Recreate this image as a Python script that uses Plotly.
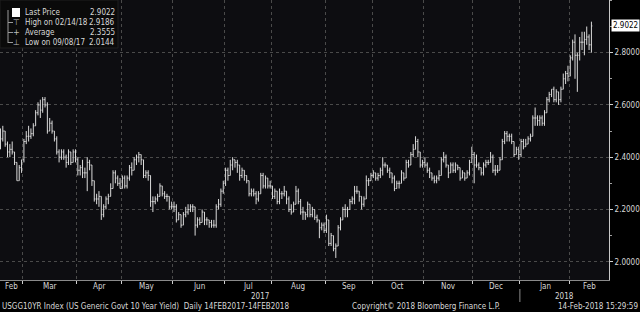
import plotly.graph_objects as go

# ---------------- data ----------------
months = ["2017-02", "2017-03", "2017-04", "2017-05", "2017-06", "2017-07", "2017-08",
          "2017-09", "2017-10", "2017-11", "2017-12", "2018-01", "2018-02"]
month_names = ["Feb", "Mar", "Apr", "May", "Jun", "Jul", "Aug", "Sep", "Oct", "Nov", "Dec", "Jan", "Feb"]
trading_days = [
    [14, 15, 16, 17, 21, 22, 23, 24, 27, 28],
    [1, 2, 3, 6, 7, 8, 9, 10, 13, 14, 15, 16, 17, 20, 21, 22, 23, 24, 27, 28, 29, 30, 31],
    [3, 4, 5, 6, 7, 10, 11, 12, 13, 17, 18, 19, 20, 21, 24, 25, 26, 27, 28],
    [1, 2, 3, 4, 5, 8, 9, 10, 11, 12, 15, 16, 17, 18, 19, 22, 23, 24, 25, 26, 30, 31],
    [1, 2, 5, 6, 7, 8, 9, 12, 13, 14, 15, 16, 19, 20, 21, 22, 23, 26, 27, 28, 29, 30],
    [3, 5, 6, 7, 10, 11, 12, 13, 14, 17, 18, 19, 20, 21, 24, 25, 26, 27, 28, 31],
    [1, 2, 3, 4, 7, 8, 9, 10, 11, 14, 15, 16, 17, 18, 21, 22, 23, 24, 25, 28, 29, 30, 31],
    [1, 5, 6, 7, 8, 11, 12, 13, 14, 15, 18, 19, 20, 21, 22, 25, 26, 27, 28, 29],
    [2, 3, 4, 5, 6, 9, 10, 11, 12, 13, 16, 17, 18, 19, 20, 23, 24, 25, 26, 27, 30, 31],
    [1, 2, 3, 6, 7, 8, 9, 10, 13, 14, 15, 16, 17, 20, 21, 22, 24, 27, 28, 29, 30],
    [1, 4, 5, 6, 7, 8, 11, 12, 13, 14, 15, 18, 19, 20, 21, 22, 26, 27, 28, 29],
    [2, 3, 4, 5, 8, 9, 10, 11, 12, 16, 17, 18, 19, 22, 23, 24, 25, 26, 29, 30, 31],
    [1, 2, 5, 6, 7, 8, 9, 12, 13, 14],
]

open_ = [
    2.44, 2.47, 2.50, 2.45, 2.42, 2.43, 2.42, 2.38, 2.31, 2.36,
    2.39, 2.46, 2.48, 2.48, 2.49, 2.52, 2.57, 2.60, 2.58, 2.62, 2.60, 2.50, 2.53, 2.50, 2.47, 2.42, 2.40, 2.42, 2.40, 2.38, 2.42, 2.38, 2.42,
    2.39, 2.35, 2.36, 2.34, 2.34, 2.38, 2.37, 2.31, 2.24, 2.24, 2.25, 2.18, 2.21, 2.24, 2.25, 2.28, 2.34, 2.32, 2.30,
    2.28, 2.32, 2.29, 2.32, 2.36, 2.35, 2.39, 2.40, 2.41, 2.39, 2.33, 2.34, 2.33, 2.23, 2.23, 2.24, 2.25, 2.29, 2.26, 2.25, 2.25, 2.21,
    2.21, 2.21, 2.16, 2.18, 2.14, 2.18, 2.19, 2.20, 2.21, 2.21, 2.14, 2.16, 2.15, 2.19, 2.16, 2.16, 2.15, 2.14, 2.14, 2.21, 2.22, 2.27,
    2.30, 2.35, 2.33, 2.37, 2.39, 2.38, 2.37, 2.33, 2.35, 2.33, 2.31, 2.26, 2.27, 2.26, 2.24, 2.26, 2.33, 2.29, 2.32, 2.29,
    2.29, 2.25, 2.27, 2.23, 2.26, 2.26, 2.27, 2.24, 2.20, 2.19, 2.22, 2.27, 2.23, 2.19, 2.19, 2.18, 2.22, 2.18, 2.20, 2.17, 2.16, 2.13, 2.14,
    2.12, 2.16, 2.07, 2.10, 2.05, 2.06, 2.13, 2.16, 2.20, 2.20, 2.20, 2.23, 2.24, 2.27, 2.27, 2.25, 2.22, 2.24, 2.31, 2.31,
    2.33, 2.34, 2.32, 2.33, 2.35, 2.37, 2.37, 2.35, 2.34, 2.32, 2.28, 2.30, 2.30, 2.34, 2.32, 2.38, 2.37, 2.41, 2.43, 2.46, 2.42, 2.37,
    2.38, 2.37, 2.35, 2.34, 2.32, 2.31, 2.32, 2.33, 2.39, 2.40, 2.37, 2.34, 2.37, 2.35, 2.37, 2.36, 2.32, 2.34, 2.32, 2.34, 2.38,
    2.41, 2.37, 2.37, 2.36, 2.34, 2.37, 2.38, 2.38, 2.40, 2.35, 2.35, 2.35, 2.39, 2.46, 2.49, 2.48, 2.48, 2.46, 2.41, 2.43,
    2.41, 2.46, 2.44, 2.45, 2.47, 2.48, 2.55, 2.55, 2.54, 2.55, 2.53, 2.57, 2.62, 2.64, 2.66, 2.62, 2.65, 2.62, 2.66, 2.70, 2.72,
    2.71, 2.78, 2.84, 2.79, 2.79, 2.84, 2.84, 2.85, 2.86, 2.83,
]
high = [
    2.51, 2.52, 2.50, 2.46, 2.45, 2.46, 2.42, 2.38, 2.37, 2.39,
    2.47, 2.50, 2.52, 2.51, 2.53, 2.58, 2.61, 2.62, 2.63, 2.63, 2.61, 2.55, 2.54, 2.50, 2.48, 2.43, 2.43, 2.43, 2.41, 2.43, 2.42, 2.43, 2.43,
    2.40, 2.37, 2.39, 2.36, 2.40, 2.39, 2.37, 2.31, 2.26, 2.27, 2.25, 2.22, 2.25, 2.26, 2.30, 2.35, 2.35, 2.33, 2.32,
    2.33, 2.33, 2.33, 2.37, 2.38, 2.40, 2.41, 2.42, 2.41, 2.39, 2.35, 2.35, 2.33, 2.25, 2.25, 2.26, 2.30, 2.29, 2.27, 2.26, 2.25, 2.23,
    2.23, 2.22, 2.19, 2.18, 2.19, 2.21, 2.22, 2.22, 2.22, 2.21, 2.17, 2.17, 2.20, 2.19, 2.17, 2.16, 2.16, 2.16, 2.22, 2.24, 2.28, 2.31,
    2.36, 2.36, 2.39, 2.40, 2.39, 2.39, 2.37, 2.36, 2.35, 2.33, 2.31, 2.28, 2.28, 2.27, 2.27, 2.34, 2.34, 2.33, 2.32, 2.31,
    2.29, 2.28, 2.27, 2.28, 2.27, 2.29, 2.27, 2.25, 2.22, 2.23, 2.29, 2.28, 2.24, 2.21, 2.19, 2.23, 2.22, 2.21, 2.20, 2.18, 2.16, 2.15, 2.15,
    2.18, 2.16, 2.11, 2.10, 2.07, 2.14, 2.17, 2.21, 2.22, 2.21, 2.24, 2.25, 2.29, 2.29, 2.27, 2.25, 2.25, 2.33, 2.32, 2.34,
    2.35, 2.34, 2.34, 2.36, 2.40, 2.38, 2.37, 2.36, 2.34, 2.33, 2.31, 2.31, 2.35, 2.34, 2.39, 2.39, 2.42, 2.45, 2.48, 2.47, 2.42, 2.39,
    2.40, 2.38, 2.36, 2.34, 2.33, 2.33, 2.35, 2.40, 2.42, 2.41, 2.37, 2.38, 2.38, 2.38, 2.37, 2.36, 2.35, 2.34, 2.35, 2.39, 2.44,
    2.42, 2.41, 2.38, 2.36, 2.38, 2.39, 2.39, 2.42, 2.41, 2.37, 2.37, 2.40, 2.47, 2.50, 2.50, 2.49, 2.49, 2.46, 2.44, 2.44,
    2.47, 2.47, 2.47, 2.48, 2.49, 2.56, 2.59, 2.56, 2.56, 2.56, 2.58, 2.63, 2.65, 2.66, 2.67, 2.66, 2.65, 2.67, 2.72, 2.73, 2.75,
    2.79, 2.85, 2.87, 2.80, 2.86, 2.88, 2.88, 2.90, 2.87, 2.9186,
]
low = [
    2.43, 2.46, 2.44, 2.40, 2.40, 2.41, 2.37, 2.31, 2.31, 2.34,
    2.38, 2.45, 2.46, 2.47, 2.48, 2.52, 2.56, 2.55, 2.57, 2.59, 2.49, 2.50, 2.49, 2.46, 2.41, 2.38, 2.39, 2.39, 2.36, 2.37, 2.37, 2.38, 2.38,
    2.33, 2.33, 2.32, 2.32, 2.27, 2.35, 2.29, 2.23, 2.22, 2.21, 2.16, 2.17, 2.20, 2.22, 2.25, 2.28, 2.30, 2.29, 2.28,
    2.28, 2.28, 2.28, 2.31, 2.33, 2.35, 2.37, 2.38, 2.37, 2.32, 2.32, 2.31, 2.21, 2.19, 2.22, 2.23, 2.25, 2.25, 2.24, 2.23, 2.20, 2.20,
    2.19, 2.15, 2.16, 2.13, 2.14, 2.17, 2.18, 2.19, 2.19, 2.10, 2.13, 2.14, 2.15, 2.14, 2.14, 2.13, 2.13, 2.13, 2.13, 2.20, 2.21, 2.26,
    2.29, 2.31, 2.33, 2.35, 2.36, 2.34, 2.31, 2.32, 2.31, 2.30, 2.25, 2.25, 2.25, 2.22, 2.23, 2.26, 2.28, 2.28, 2.28, 2.28,
    2.24, 2.24, 2.22, 2.22, 2.24, 2.25, 2.22, 2.19, 2.18, 2.19, 2.22, 2.22, 2.18, 2.16, 2.16, 2.17, 2.17, 2.17, 2.16, 2.15, 2.09, 2.12, 2.11,
    2.11, 2.06, 2.06, 2.04, 2.0144, 2.06, 2.12, 2.16, 2.17, 2.17, 2.20, 2.22, 2.22, 2.26, 2.23, 2.20, 2.21, 2.24, 2.29, 2.31,
    2.32, 2.31, 2.31, 2.32, 2.33, 2.36, 2.34, 2.32, 2.30, 2.27, 2.28, 2.28, 2.30, 2.31, 2.32, 2.36, 2.37, 2.40, 2.43, 2.40, 2.36, 2.36,
    2.36, 2.34, 2.32, 2.31, 2.30, 2.30, 2.31, 2.33, 2.38, 2.36, 2.32, 2.34, 2.34, 2.34, 2.35, 2.31, 2.32, 2.31, 2.32, 2.33, 2.38,
    2.30, 2.36, 2.35, 2.33, 2.33, 2.36, 2.37, 2.38, 2.34, 2.33, 2.34, 2.35, 2.39, 2.45, 2.46, 2.46, 2.45, 2.40, 2.41, 2.39,
    2.40, 2.43, 2.44, 2.45, 2.46, 2.48, 2.52, 2.52, 2.52, 2.52, 2.52, 2.57, 2.61, 2.63, 2.61, 2.61, 2.60, 2.61, 2.66, 2.68, 2.69,
    2.71, 2.77, 2.70, 2.65, 2.77, 2.81, 2.79, 2.83, 2.81, 2.80,
]
close = [
    2.47, 2.50, 2.45, 2.42, 2.43, 2.42, 2.38, 2.31, 2.36, 2.39,
    2.46, 2.48, 2.48, 2.49, 2.52, 2.57, 2.60, 2.58, 2.62, 2.60, 2.50, 2.53, 2.50, 2.47, 2.42, 2.40, 2.42, 2.40, 2.38, 2.42, 2.38, 2.42, 2.39,
    2.35, 2.36, 2.34, 2.34, 2.38, 2.37, 2.31, 2.24, 2.24, 2.25, 2.18, 2.21, 2.24, 2.25, 2.28, 2.34, 2.32, 2.30, 2.28,
    2.32, 2.29, 2.32, 2.36, 2.35, 2.39, 2.40, 2.41, 2.39, 2.33, 2.34, 2.33, 2.23, 2.23, 2.24, 2.25, 2.29, 2.26, 2.25, 2.25, 2.21, 2.21,
    2.21, 2.16, 2.18, 2.14, 2.18, 2.19, 2.20, 2.21, 2.21, 2.14, 2.16, 2.15, 2.19, 2.16, 2.16, 2.15, 2.14, 2.14, 2.21, 2.22, 2.27, 2.30,
    2.35, 2.33, 2.37, 2.39, 2.38, 2.37, 2.33, 2.35, 2.33, 2.31, 2.26, 2.27, 2.26, 2.24, 2.26, 2.33, 2.29, 2.32, 2.29, 2.29,
    2.25, 2.27, 2.23, 2.26, 2.26, 2.27, 2.24, 2.20, 2.19, 2.22, 2.27, 2.23, 2.19, 2.19, 2.18, 2.22, 2.18, 2.20, 2.17, 2.16, 2.13, 2.14, 2.12,
    2.16, 2.07, 2.10, 2.05, 2.06, 2.13, 2.16, 2.20, 2.20, 2.20, 2.23, 2.24, 2.27, 2.27, 2.25, 2.22, 2.24, 2.31, 2.31, 2.33,
    2.34, 2.32, 2.33, 2.35, 2.37, 2.37, 2.35, 2.34, 2.32, 2.28, 2.30, 2.30, 2.34, 2.32, 2.38, 2.37, 2.41, 2.43, 2.46, 2.42, 2.37, 2.38,
    2.37, 2.35, 2.34, 2.32, 2.31, 2.32, 2.33, 2.39, 2.40, 2.37, 2.34, 2.37, 2.35, 2.37, 2.36, 2.32, 2.34, 2.32, 2.34, 2.38, 2.41,
    2.37, 2.37, 2.36, 2.34, 2.37, 2.38, 2.38, 2.40, 2.35, 2.35, 2.35, 2.39, 2.46, 2.49, 2.48, 2.48, 2.46, 2.41, 2.43, 2.41,
    2.46, 2.44, 2.45, 2.47, 2.48, 2.55, 2.55, 2.54, 2.55, 2.53, 2.57, 2.62, 2.64, 2.66, 2.62, 2.65, 2.62, 2.66, 2.70, 2.72, 2.71,
    2.78, 2.84, 2.79, 2.79, 2.84, 2.84, 2.85, 2.86, 2.83, 2.9022,
]
average_value = 2.3555
y_ticks = [2.0, 2.2, 2.4, 2.6, 2.8]
y_minor = [2.1, 2.3, 2.5, 2.7, 2.9, 3.0]
title_text = "USGG10YR Index (US Generic Govt 10 Year Yield)  Daily 14FEB2017-14FEB2018"
copyright_text = "Copyright\u00a9 2018 Bloomberg Finance L.P."
stamp_text = "14-Feb-2018 15:29:59"

# ---------------- derived ----------------
dates = [f"{m}-{d:02d}" for m, days in zip(months, trading_days) for d in days]
x = list(range(len(dates)))

X_RANGE = [-0.2, 259.5]
Y_RANGE = [1.930, 3.0015]

bounds = []
idx = 0
for days in trading_days:
    bounds.append(idx - 0.5)
    idx += len(days)
month_edges = bounds + [X_RANGE[1]]
mids = []
for i in range(len(months)):
    a = max(month_edges[i], X_RANGE[0])
    b = min(month_edges[i + 1], X_RANGE[1])
    mids.append((a + b) / 2)
grid_bounds = bounds[1:]
year_split = bounds[months.index("2018-01")]

FONT = "Liberation Sans Narrow, Arial Narrow, DejaVu Sans Condensed, Liberation Sans, Arial, sans-serif"
TXT = "#d8d8d8"

W_PLOT, H_PLOT = 609, 280


def px(v):
    return v / W_PLOT


def py(v):
    return 1 - v / H_PLOT


fig = go.Figure()
fig.add_trace(go.Ohlc(
    x=x, open=open_, high=high, low=low, close=close,
    increasing=dict(line=dict(color="#dadada", width=1)),
    decreasing=dict(line=dict(color="#dadada", width=1)),
    tickwidth=0.4, hoverinfo="skip", showlegend=False,
))

annotations = []
shapes = []

# legend box
shapes.append(dict(type="rect", xref="paper", yref="paper", x0=px(0), x1=px(118), y0=py(48), y1=py(0),
                   fillcolor="#0a0a0a", line=dict(color="#1e1e1e", width=1), layer="above"))
shapes.append(dict(type="line", xref="paper", yref="paper", x0=px(8), x1=px(8), y0=py(10), y1=py(43),
                   line=dict(color="#9a9a9a", width=1), layer="above"))
for yy in [22.5, 32.5, 42.5]:
    shapes.append(dict(type="line", xref="paper", yref="paper", x0=px(8), x1=px(13), y0=py(yy), y1=py(yy),
                       line=dict(color="#9a9a9a", width=1), layer="above"))
shapes.append(dict(type="rect", xref="paper", yref="paper", x0=px(12), x1=px(20), y0=py(17), y1=py(8),
                   fillcolor="#ffffff", line=dict(color="#ffffff", width=0), layer="above"))

hi_idx = max(range(len(high)), key=lambda i: high[i])
lo_idx = min(range(len(low)), key=lambda i: low[i])


def mmddyy(d):
    y, m, dd = d.split("-")
    return f"{m}/{dd}/{y[2:]}"


legend_rows = [
    ("", "Last Price", f"{close[-1]:.4f}"),
    ("\u22a4", f"High on {mmddyy(dates[hi_idx])}", f"{high[hi_idx]:.4f}"),
    ("+", "Average", f"{average_value:.4f}"),
    ("\u22a5", f"Low on {mmddyy(dates[lo_idx])}", f"{low[lo_idx]:.4f}"),
]
for k, (sym, lab, val) in enumerate(legend_rows):
    yy = 12.5 + 10 * k
    if sym:
        annotations.append(dict(xref="paper", yref="paper", x=px(16), y=py(yy), text=sym, showarrow=False,
                                xanchor="center", yanchor="middle", font=dict(family="DejaVu Sans", size=8, color="#bdbdbd")))
    annotations.append(dict(xref="paper", yref="paper", x=px(23), y=py(yy), text=lab, showarrow=False,
                            xanchor="left", yanchor="middle", font=dict(family=FONT, size=8, color=TXT)))
    annotations.append(dict(xref="paper", yref="paper", x=px(117), y=py(yy), text=val, showarrow=False,
                            xanchor="right", yanchor="middle", font=dict(family=FONT, size=8, color=TXT)))

# last price tag
annotations.append(dict(xref="paper", yref="y", x=1, y=close[-1], text=f"{close[-1]:.4f}", showarrow=False,
                        xanchor="left", yanchor="middle", xshift=2, bgcolor="#ffffff", borderpad=1,
                        font=dict(family=FONT, size=8, color="#000000")))

# month labels (centred in each visible month span)
for m_x, m_name in zip(mids, month_names):
    annotations.append(dict(xref="x", yref="paper", x=m_x, y=py(286), text=m_name, showarrow=False,
                            xanchor="center", yanchor="middle", font=dict(family=FONT, size=8, color=TXT)))

# year labels and separator
annotations.append(dict(xref="x", yref="paper", x=(X_RANGE[0] + year_split) / 2, y=py(296.5), text=months[0][:4],
                        showarrow=False, xanchor="center", yanchor="middle", font=dict(family=FONT, size=8, color=TXT)))
annotations.append(dict(xref="x", yref="paper", x=(year_split + X_RANGE[1]) / 2, y=py(296.5), text=months[-1][:4],
                        showarrow=False, xanchor="center", yanchor="middle", font=dict(family=FONT, size=8, color=TXT)))
shapes.append(dict(type="line", xref="x", yref="paper", x0=year_split, x1=year_split, y0=py(289), y1=py(302),
                   line=dict(color="#8a8a8a", width=1)))

# footer
annotations.append(dict(xref="paper", yref="paper", x=px(0), y=py(306.5), text=title_text, showarrow=False,
                        xanchor="left", yanchor="middle", font=dict(family=FONT, size=8, color=TXT)))
annotations.append(dict(xref="paper", yref="paper", x=px(350), y=py(306.5), text=copyright_text, showarrow=False,
                        xanchor="left", yanchor="middle", font=dict(family=FONT, size=8, color=TXT)))
annotations.append(dict(xref="paper", yref="paper", x=px(640), y=py(306.5), text=stamp_text, showarrow=False,
                        xanchor="right", yanchor="middle", font=dict(family=FONT, size=8, color=TXT)))

fig.update_layout(
    width=640, height=312,
    margin=dict(l=0, r=31, t=0, b=32, autoexpand=False),
    paper_bgcolor="#000000", plot_bgcolor="#0d0d11",
    showlegend=False,
    font=dict(family=FONT, size=8, color=TXT),
    annotations=annotations, shapes=shapes,
    xaxis=dict(
        automargin=False,
        range=X_RANGE, tickmode="array", tickvals=grid_bounds, showticklabels=False,
        ticks="outside", ticklen=3, tickcolor="#cfcfcf",
        showgrid=True, gridcolor="#4a4a4a", griddash="dot", gridwidth=1, zeroline=False,
        showline=True, linecolor="#8a8a8a", linewidth=1,
        rangeslider=dict(visible=False),
    ),
    yaxis=dict(
        automargin=False,
        side="right", range=Y_RANGE, tickmode="array", tickvals=y_ticks, tickformat=".4f",
        ticks="outside", ticklen=3, tickcolor="#d0d0d0",
        showgrid=True, gridcolor="#4a4a4a", griddash="dot", gridwidth=1, zeroline=False,
        showline=True, linecolor="#c8c8c8", linewidth=1,
        tickfont=dict(family=FONT, size=8, color=TXT),
        minor=dict(tickmode="array", tickvals=y_minor, ticks="outside", ticklen=2, tickcolor="#a0a0a0", showgrid=False),
    ),
)

fig.write_html("out.html")
